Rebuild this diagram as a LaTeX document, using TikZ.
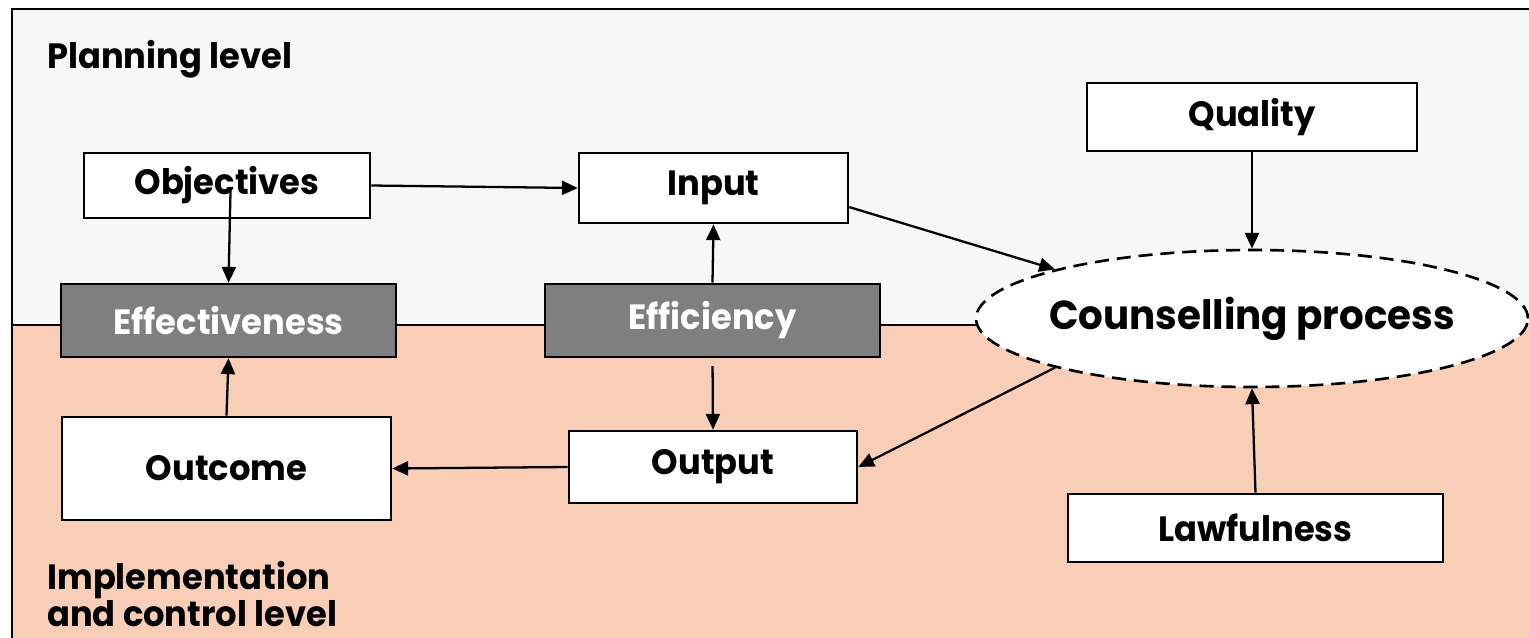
\documentclass[tikz,border=0pt]{standalone}
\usepackage{fontspec}
\setmainfont[FakeStretch=0.96]{Poppins}
\usepackage{xcolor}
\usetikzlibrary{arrows.meta,shapes.geometric}

\definecolor{planbg}{RGB}{247,247,247}
\definecolor{implbg}{RGB}{249,206,182}
\definecolor{boxgrey}{RGB}{127,127,127}

\begin{document}
\begin{tikzpicture}[x=0.02cm,y=-0.02cm,
    boxnode/.style={rectangle, draw=black, fill=white, line width=1.5pt, inner sep=0pt, font=\bfseries\fontsize{20}{24}\selectfont},
    greynode/.style={boxnode, fill=boxgrey, text=white},
    ovalnode/.style={ellipse, draw=black, fill=white, line width=1.5pt, dash pattern=on 8pt off 4.5pt, inner xsep=-0.4cm, inner ysep=0pt, font=\bfseries\fontsize{23}{28}\selectfont},
    levellabel/.style={inner sep=0pt, align=left, font=\bfseries\fontsize{20}{20}\selectfont}]

        % the two levels
        \useasboundingbox (0,0) rectangle (1529,637);
        \begin{scope}
            \clip (0,0) rectangle (1529,637);
            \fill[planbg] (12,9) rectangle (1560,325);
            \fill[implbg] (12,325) rectangle (1560,660);
            \draw[line width=1.6pt] (1560,9) -- (12,9) -- (12,660);
        \end{scope}
        \draw[line width=1.5pt] (12,325) -- (990,325);

        \node[levellabel, anchor=base west] (plan) at (47,68) {Planning level};
        \node[levellabel, anchor=north west] (impl) at (47,561) {Implementation\\and control level};

        \node[boxnode, minimum width=5.72cm, minimum height=1.30cm] (obj) at (227,185.5) {Objectives};
        \node[boxnode, minimum width=5.38cm, minimum height=1.40cm] (input) at (713.5,188) {Input};
        \node[boxnode, minimum width=6.60cm, minimum height=1.36cm] (quality) at (1252,117) {Quality};
        \node[greynode, minimum width=6.70cm, minimum height=1.46cm] (effect) at (228.5,320.5) {Effectiveness};
        \node[greynode, minimum width=6.70cm, minimum height=1.46cm] (effic) at (712.5,320.5) {Efficiency};
        \node[ovalnode, minimum width=11.04cm, minimum height=2.74cm] (counsel) at (1252,318.5) {Counselling process};
        \node[boxnode, minimum width=6.58cm, minimum height=2.06cm] (outcome) at (226.5,468.5) {Outcome};
        \node[boxnode, minimum width=5.76cm, minimum height=1.44cm] (output) at (713,467) {Output};
        \node[boxnode, minimum width=7.50cm, minimum height=1.36cm] (lawful) at (1255.5,528) {Lawfulness};

        \tikzset{arrow/.style={-{Triangle[length=9pt,width=8pt]}, line width=1.3pt}}

        \draw[arrow] (obj.east) -- (input.west);
        \draw[arrow] ([xshift=2pt,yshift=-3pt]obj.center) -- (effect.north);
        \draw[arrow] (effic.north) -- (input.south);
        \draw[arrow, shorten <=4.5pt] (effic.south) -- (output.north);
        \draw[arrow] (input.-8) -- (counsel.166);
        \draw[arrow] (counsel.194) -- (output.east);
        \draw[arrow] (output.west) -- (outcome.east);
        \draw[arrow] (outcome.north) -- (effect.south);
        \draw[arrow] (quality.south) -- (counsel.north);
        \draw[arrow] (lawful.north) -- (counsel.south);

\end{tikzpicture}
\end{document}
